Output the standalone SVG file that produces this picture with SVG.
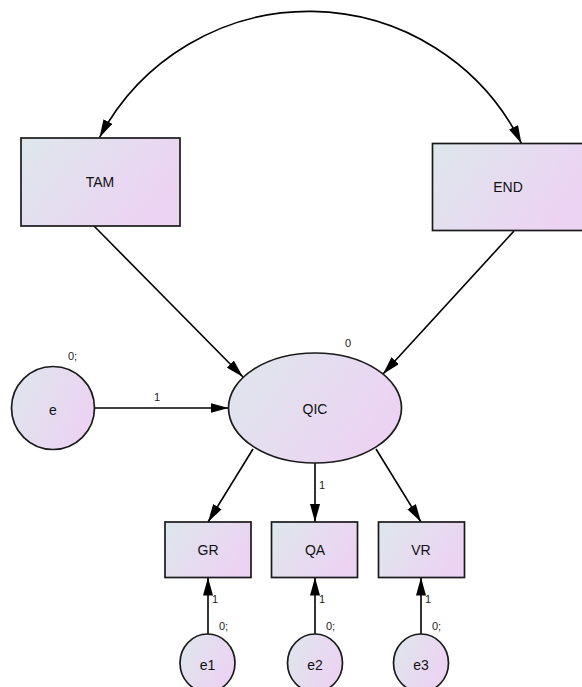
<svg xmlns="http://www.w3.org/2000/svg" width="582" height="687" viewBox="0 0 582 687">
  <defs>
    <linearGradient id="fill" x1="0" y1="0" x2="1" y2="0.45">
      <stop offset="0" stop-color="#dee7ec"/>
      <stop offset="1" stop-color="#ecd3f3"/>
    </linearGradient>
    <marker id="arrow" viewBox="0 0 18 10" refX="18" refY="5" markerWidth="18" markerHeight="10" markerUnits="userSpaceOnUse" orient="auto-start-reverse">
      <path d="M0,0 L18,5 L0,10 z" fill="#000"/>
    </marker>
    <style>
      .shape { fill: url(#fill); stroke: #1a1a1a; stroke-width: 1.7; }
      .name { font-family: "Liberation Sans", Arial, sans-serif; font-size: 14px; fill: #111; text-anchor: middle; dominant-baseline: central; }
      .lbl { font-family: "Liberation Sans", Arial, sans-serif; font-size: 11px; fill: #222; }
      .edge { fill: none; stroke: #000; stroke-width: 1.6; marker-end: url(#arrow); }
    </style>
  </defs>

  <!-- connectors -->
  <g id="connectors">
    <path class="edge" style="marker-start: url(#arrow)" d="M 99.5 137.5 A 237 237 0 0 1 521.5 143.5"/>
    <path class="edge" d="M 94 226 L 243 377"/>
    <path class="edge" d="M 514 231 L 383 374"/>
    <path class="edge" d="M 95 408 L 228.5 408"/>
    <path class="edge" d="M 253 449 L 208 522"/>
    <path class="edge" d="M 315 463 L 315 522"/>
    <path class="edge" d="M 376 449 L 421 522"/>
    <path class="edge" d="M 208 634 L 208 577.5"/>
    <path class="edge" d="M 315 634 L 315 577.5"/>
    <path class="edge" d="M 421 634 L 421 577.5"/>
    <text class="lbl" x="154" y="401">1</text>
    <text class="lbl" x="319" y="489">1</text>
    <text class="lbl" x="212" y="603">1</text>
    <text class="lbl" x="319" y="603">1</text>
    <text class="lbl" x="425" y="603">1</text>
  </g>

  <g id="TAM">
    <rect class="shape" x="21" y="138" width="159" height="88"/>
    <text class="name" x="100" y="182">TAM</text>
  </g>
  <g id="END">
    <rect class="shape" x="432.5" y="143.5" width="152" height="87"/>
    <text class="name" x="508" y="187">END</text>
  </g>
  <g id="e">
    <circle class="shape" cx="53" cy="408" r="41.5"/>
    <text class="name" x="53" y="410">e</text>
    <text class="lbl" x="68" y="360">0;</text>
  </g>
  <g id="QIC">
    <ellipse class="shape" cx="315" cy="408" rx="86.5" ry="55"/>
    <text class="name" x="315" y="409">QIC</text>
    <text class="lbl" x="345" y="347">0</text>
  </g>
  <g id="GR">
    <rect class="shape" x="165" y="522" width="86" height="55.5"/>
    <text class="name" x="208" y="550">GR</text>
  </g>
  <g id="QA">
    <rect class="shape" x="271.5" y="522" width="86" height="55.5"/>
    <text class="name" x="315" y="550">QA</text>
  </g>
  <g id="VR">
    <rect class="shape" x="378.5" y="522" width="86" height="55.5"/>
    <text class="name" x="421" y="550">VR</text>
  </g>
  <g id="e1">
    <ellipse class="shape" cx="207.5" cy="663" rx="27.5" ry="29"/>
    <text class="name" x="207.5" y="665">e1</text>
    <text class="lbl" x="219" y="630">0;</text>
  </g>
  <g id="e2">
    <ellipse class="shape" cx="315" cy="663" rx="27.5" ry="29"/>
    <text class="name" x="315" y="665">e2</text>
    <text class="lbl" x="326" y="630">0;</text>
  </g>
  <g id="e3">
    <ellipse class="shape" cx="421" cy="663" rx="27.5" ry="29"/>
    <text class="name" x="421" y="665">e3</text>
    <text class="lbl" x="432" y="630">0;</text>
  </g>
</svg>
